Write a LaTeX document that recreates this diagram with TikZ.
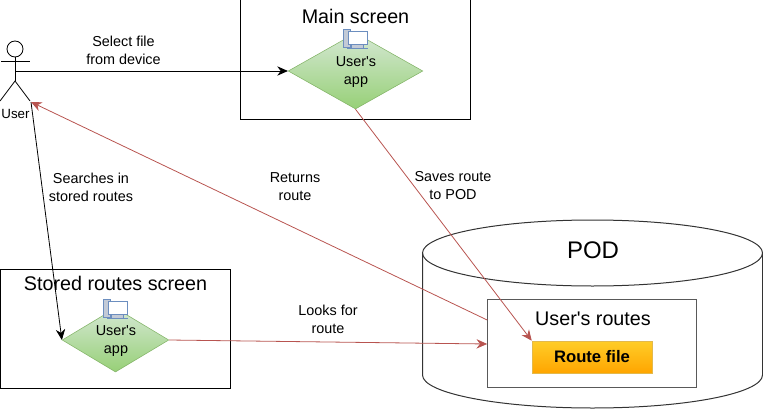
\documentclass[tikz,border=0pt]{standalone}
\usepackage{fontspec}
\setmainfont{Liberation Sans}
\usetikzlibrary{arrows.meta,positioning,calc,shapes.geometric}
\definecolor{linkred}{HTML}{B85450}
\definecolor{leafgreen}{HTML}{82B366}
\definecolor{leaftop}{HTML}{D5E8D4}
\definecolor{leafbot}{HTML}{97D077}
\definecolor{iconblue}{HTML}{6C8EBF}
\definecolor{icongrey}{HTML}{C3CAD6}
\definecolor{filetop}{HTML}{FFCD28}
\definecolor{filebot}{HTML}{FFA500}
\definecolor{fileline}{HTML}{D79B00}

\begin{document}
\begin{tikzpicture}[
  x=0.75pt, y=-0.75pt,
  font=\fontsize{10.8pt}{13.5pt}\selectfont,
  screen/.style={draw=black, line width=0.75pt, inner sep=0pt},
  lbl/.style={align=center, inner sep=0pt},
  title/.style={inner sep=0pt, font=\fontsize{14.8pt}{17pt}\selectfont},
  app/.style={diamond, aspect=1.75, draw=leafgreen, top color=leaftop, bottom color=leafbot,
    inner sep=0pt, align=center},
  msg/.style={-{Stealth[length=8pt,width=7pt]}, line width=0.6pt, draw=black},
  back/.style={-{Stealth[length=8pt,width=7pt]}, line width=0.6pt, draw=linkred},
  person/.style={line width=0.6pt, draw=black}
]
\useasboundingbox (0,0) rectangle (763,410);

% ================= Screens =================
\node[screen, minimum width=172pt, minimum height=89.25pt] (mainbox) at (355.5,59.5) {};
\node[title] (maintitle) at (355.5,16) {Main screen};
\node[screen, minimum width=173pt, minimum height=89.25pt] (storedbox) at (115.5,328.5) {};
\node[title] (storedtitle) at (115.5,283) {Stored routes screen};

% ================= User =================
\node[circle, person, minimum size=12pt, inner sep=0pt] (head) at (15,49) {};
\coordinate (hip) at (15,81);
\coordinate (handl) at (1,61);
\coordinate (handr) at (30,61);
\coordinate (footl) at (0,101);
\coordinate (footr) at (30,101);
\coordinate (chest) at (15,71);
\coordinate (userout) at (31,102);
\draw[person] (head.south) -- (hip);
\draw[person] (handl) -- (handr);
\draw[person] (footl) -- (hip) -- (footr);
\node[lbl] (user) at (15.5,114) {\fontsize{10pt}{12pt}\selectfont User};

% ================= Apps =================
\node[app, minimum width=101pt, minimum height=57pt] (mainapp) at (355.5,71) {};
\node[lbl] (maintext) at (356,72) {User\textquotesingle s\\app};
\node[app, minimum width=80pt, minimum height=48pt] (storedapp) at (115.5,340) {};
\node[lbl] (storedtext) at (116,341) {User\textquotesingle s\\app};

% ================= POD =================
\draw[draw=black!80, line width=0.75pt] (592.5,253) ellipse [x radius=170, y radius=33];
\draw[draw=black!80, line width=0.75pt] (422.5,253) -- (422.5,375)
  arc [start angle=180, end angle=0, x radius=170, y radius=33] -- (762.5,253);
\node[lbl, font=\fontsize{18pt}{20pt}\selectfont] (podtitle) at (593,250) {POD};
\node[screen, draw=black!65, fill=white, minimum width=156.5pt, minimum height=66pt] (routes) at (592,343) {};
\node[title] (routestitle) at (593,319) {User\textquotesingle s routes};
\node[draw=fileline!70, top color=filetop, bottom color=filebot, minimum width=90pt, minimum height=24pt,
  inner sep=0pt, font=\fontsize{12.5pt}{14pt}\selectfont\bfseries] (routefile) at (592,357) {Route file};

% ================= Messages =================
\draw[msg] (chest) -- (mainapp.west);
\draw[msg] (userout) -- (storedapp.west);
\draw[back] (mainapp.south) -- (routefile.north west);
\draw[back] (storedapp.east) -- (routes.west |- 0,344);
\draw[back] (routes.west |- 0,320) -- (userout);

\node[lbl] (selectlbl) at (123.5,50) {Select file\\from device};
\node[lbl] (searchlbl) at (91,187) {Searches in\\stored routes};
\node[lbl] (returnlbl) at (295,187) {Returns\\route};
\node[lbl] (saveslbl) at (453,186) {Saves route\\to POD};
\node[lbl] (lookslbl) at (328,319) {Looks for\\route};

% ================= Icons =================
\foreach \ix/\iy in {343/29, 103/299} {
  \begin{scope}[shift={(\ix,\iy)}, x=0.75pt, y=-0.75pt]
    \draw[iconblue, fill=icongrey, line width=0.6pt] (0,0) rectangle (7,18);
    \draw[iconblue, fill=icongrey, line width=0.5pt] (8,15) rectangle (20,19);
    \draw[iconblue, fill=white, line width=0.7pt] (5,2) rectangle (24,15);
    \fill[iconblue] (4,19) rectangle (25,20);
  \end{scope}
}

\end{tikzpicture}
\end{document}
